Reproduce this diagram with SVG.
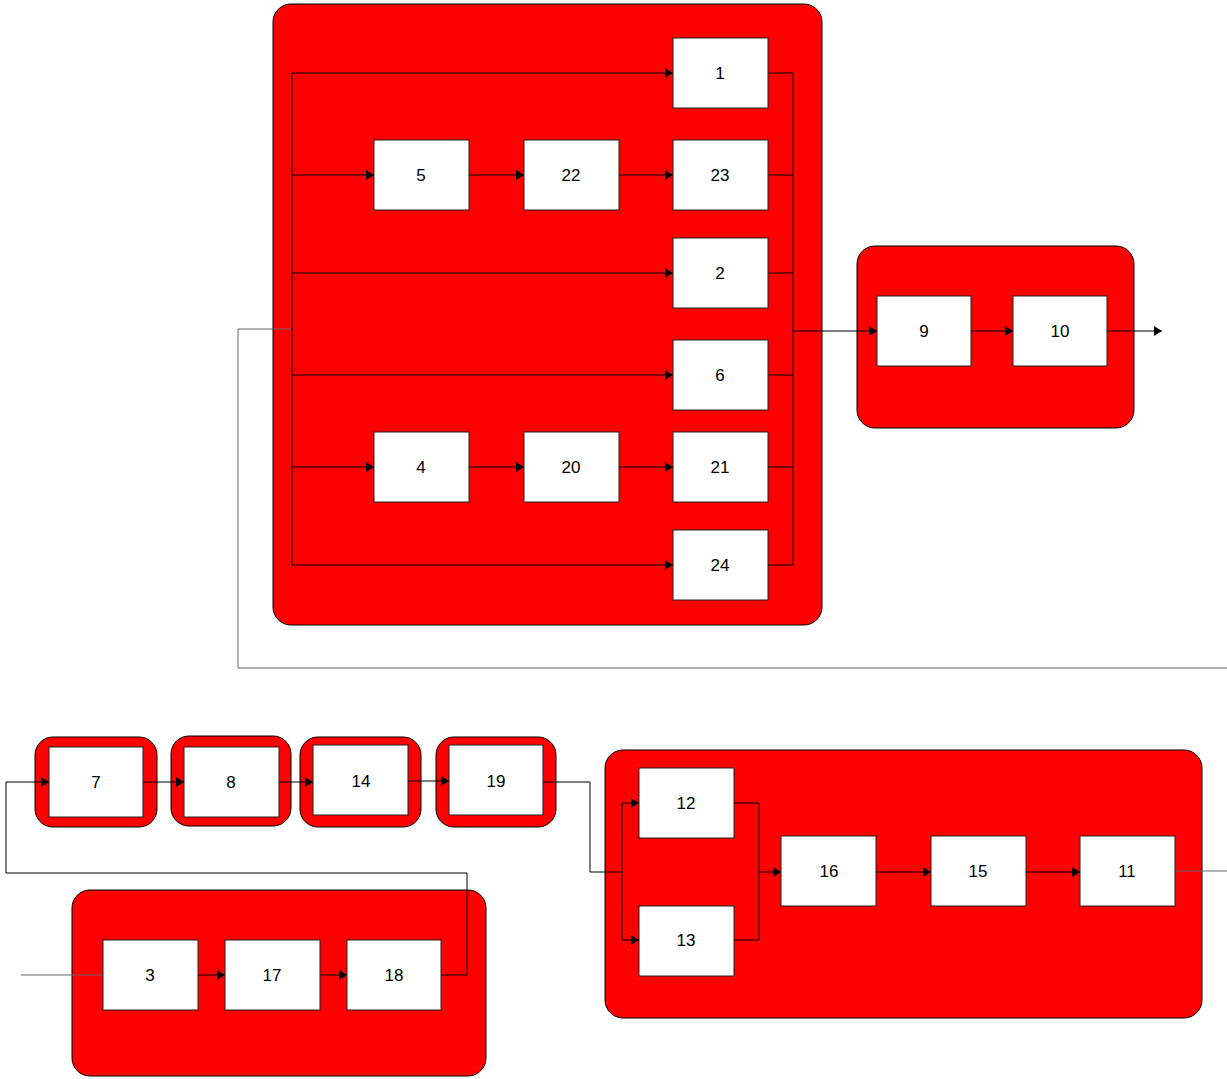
<svg xmlns="http://www.w3.org/2000/svg" width="1227" height="1079" viewBox="0 0 1227 1079">
<defs>
<style>
.grp{fill:#ff0000;stroke:#000;stroke-width:1}
.box{fill:#fff;stroke:#222;stroke-width:1}
.sh{fill:none;stroke:#888;stroke-width:2}
.lbl{font-family:"Liberation Sans",Arial,sans-serif;font-size:17px;fill:#000;text-anchor:middle;dominant-baseline:central}
.ln{fill:none;stroke:#000;stroke-width:1}
.lg{fill:none;stroke:#666;stroke-width:1}
</style>
<marker id="ar" viewBox="0 0 8 10" refX="8" refY="5" markerWidth="8" markerHeight="10" markerUnits="userSpaceOnUse" orient="auto">
<path d="M0,0 L8,5 L0,10 Z" fill="#000"/>
</marker>
</defs>
<rect width="1227" height="1079" fill="#fff"/>
<g id="containers">
<rect id="g-top" class="grp" x="273" y="4" width="549" height="621" rx="18"/>
<rect id="g-right" class="grp" x="857" y="246" width="277" height="182" rx="18"/>
<rect id="g-7" class="grp" x="35" y="737" width="122" height="90" rx="18"/>
<rect id="g-8" class="grp" x="171" y="736" width="120" height="90" rx="18"/>
<rect id="g-14" class="grp" x="300" y="737" width="121" height="90" rx="18"/>
<rect id="g-19" class="grp" x="436" y="737" width="120" height="90" rx="18"/>
<rect id="g-3" class="grp" x="72" y="890" width="414" height="186" rx="18"/>
<rect id="g-12" class="grp" x="605" y="750" width="597" height="268" rx="18"/>
</g>
<g id="connectors">
<path class="lg" d="M1227,668 H238 V329 H292"/>
<path class="ln" d="M292,73 V565"/>
<path class="ln" d="M292,73 H673" marker-end="url(#ar)"/>
<path class="ln" d="M292,175 H374" marker-end="url(#ar)"/>
<path class="ln" d="M469,175 H524" marker-end="url(#ar)"/>
<path class="ln" d="M619,175 H673" marker-end="url(#ar)"/>
<path class="ln" d="M292,273 H673" marker-end="url(#ar)"/>
<path class="ln" d="M292,375 H673" marker-end="url(#ar)"/>
<path class="ln" d="M292,467 H374" marker-end="url(#ar)"/>
<path class="ln" d="M469,467 H524" marker-end="url(#ar)"/>
<path class="ln" d="M619,467 H673" marker-end="url(#ar)"/>
<path class="ln" d="M292,565 H673" marker-end="url(#ar)"/>
<path class="ln" d="M768,73 H793 V565 H768"/>
<path class="ln" d="M768,175 H793 M768,273 H793 M768,375 H793 M768,467 H793"/>
<path class="ln" d="M793,331 H877" marker-end="url(#ar)" stroke-width="1.5"/>
<path class="ln" d="M971,331 H1013" marker-end="url(#ar)"/>
<path class="ln" d="M1107,331 H1162" marker-end="url(#ar)"/>
<path class="ln" d="M441,975 H467 V873 H6 V782 H49" marker-end="url(#ar)"/>
<path class="ln" d="M143,782 H184" marker-end="url(#ar)"/>
<path class="ln" d="M279,782 H313" marker-end="url(#ar)"/>
<path class="ln" d="M408,781 H449" marker-end="url(#ar)"/>
<path class="ln" d="M543,782 H590 V872 H622"/>
<path class="ln" d="M622,803 V940"/>
<path class="ln" d="M622,803 H639" marker-end="url(#ar)"/>
<path class="ln" d="M622,940 H639" marker-end="url(#ar)"/>
<path class="ln" d="M734,803 H759 V940 H734"/>
<path class="ln" d="M759,872 H781" marker-end="url(#ar)"/>
<path class="ln" d="M876,872 H931" marker-end="url(#ar)"/>
<path class="ln" d="M1026,872 H1080" marker-end="url(#ar)"/>
<path class="lg" d="M1175,871 H1227"/>
<path class="lg" d="M21,975 H103"/>
<path class="ln" d="M198,975 H225" marker-end="url(#ar)"/>
<path class="ln" d="M320,975 H347" marker-end="url(#ar)"/>
</g>
<g id="n1"><rect class="box" x="673" y="38" width="95" height="70"/><text class="lbl" x="720" y="73">1</text></g>
<g id="n5"><rect class="box" x="374" y="140" width="95" height="70"/><text class="lbl" x="421" y="175">5</text></g>
<g id="n22"><rect class="box" x="524" y="140" width="95" height="70"/><text class="lbl" x="571" y="175">22</text></g>
<g id="n23"><rect class="box" x="673" y="140" width="95" height="70"/><text class="lbl" x="720" y="175">23</text></g>
<g id="n2"><rect class="box" x="673" y="238" width="95" height="70"/><text class="lbl" x="720" y="273">2</text></g>
<g id="n6"><rect class="box" x="673" y="340" width="95" height="70"/><text class="lbl" x="720" y="375">6</text></g>
<g id="n4"><rect class="box" x="374" y="432" width="95" height="70"/><text class="lbl" x="421" y="467">4</text></g>
<g id="n20"><rect class="box" x="524" y="432" width="95" height="70"/><text class="lbl" x="571" y="467">20</text></g>
<g id="n21"><rect class="box" x="673" y="432" width="95" height="70"/><text class="lbl" x="720" y="467">21</text></g>
<g id="n24"><rect class="box" x="673" y="530" width="95" height="70"/><text class="lbl" x="720" y="565">24</text></g>
<g id="n9"><rect class="box" x="877" y="296" width="94" height="70"/><text class="lbl" x="924" y="331">9</text></g>
<g id="n10"><rect class="box" x="1013" y="296" width="94" height="70"/><text class="lbl" x="1060" y="331">10</text></g>
<g id="n7"><rect class="box" x="49" y="747" width="94" height="70"/><text class="lbl" x="96" y="782">7</text></g>
<g id="n8"><rect class="box" x="184" y="747" width="95" height="70"/><text class="lbl" x="231" y="782">8</text></g>
<g id="n14"><rect class="box" x="313" y="745" width="95" height="70"/><text class="lbl" x="361" y="781">14</text></g>
<g id="n19"><rect class="box" x="449" y="745" width="94" height="70"/><text class="lbl" x="496" y="781">19</text></g>
<g id="n3"><rect class="box" x="103" y="940" width="95" height="70"/><text class="lbl" x="150" y="975">3</text></g>
<g id="n17"><rect class="box" x="225" y="940" width="95" height="70"/><text class="lbl" x="272" y="975">17</text></g>
<g id="n18"><rect class="box" x="347" y="940" width="94" height="70"/><text class="lbl" x="394" y="975">18</text></g>
<g id="n12"><rect class="box" x="639" y="768" width="95" height="70"/><text class="lbl" x="686" y="803">12</text></g>
<g id="n13"><rect class="box" x="639" y="906" width="95" height="70"/><text class="lbl" x="686" y="940">13</text></g>
<g id="n16"><rect class="box" x="781" y="836" width="95" height="70"/><text class="lbl" x="829" y="871">16</text></g>
<g id="n15"><rect class="box" x="931" y="836" width="95" height="70"/><text class="lbl" x="978" y="871">15</text></g>
<g id="n11"><rect class="box" x="1080" y="836" width="95" height="70"/><text class="lbl" x="1127" y="871">11</text></g>
</svg>
